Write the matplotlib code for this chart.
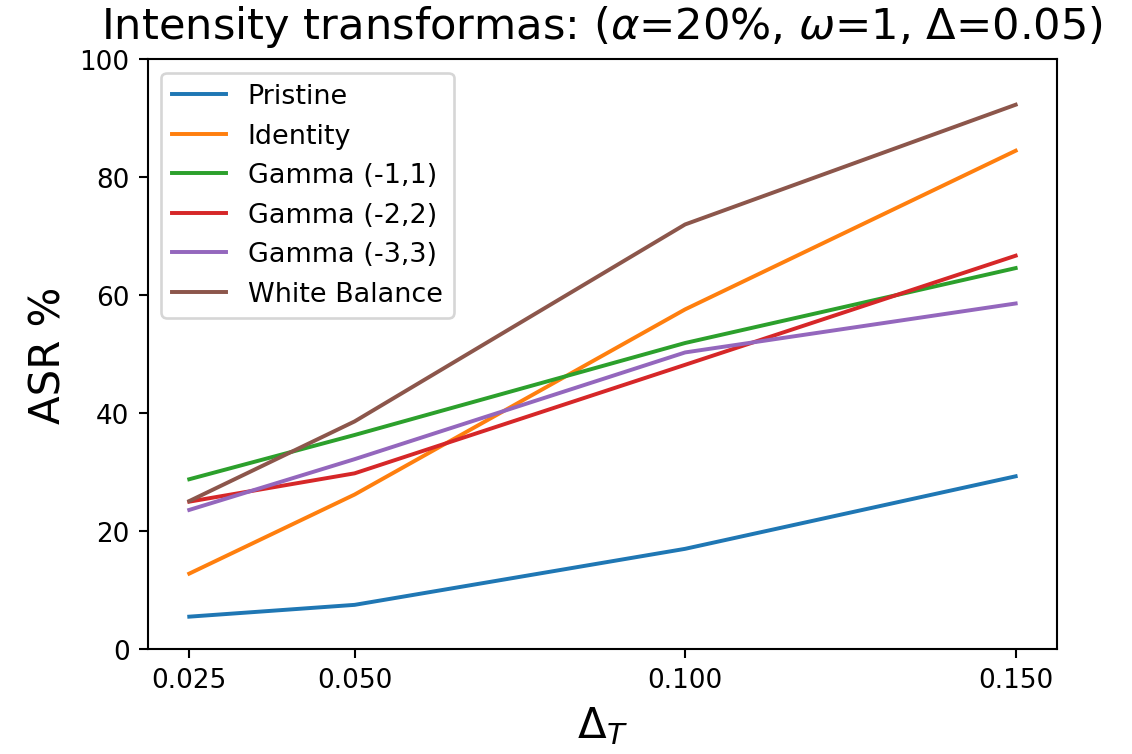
import matplotlib
matplotlib.use("Agg")
import matplotlib.pyplot as plt

# Threshold values on the x axis
delta_t = [0.025, 0.05, 0.1, 0.15]

# Attack success rate (%) per transform
pristine = [5.5, 7.5, 17.0, 29.3]
identity = [12.8, 26.2, 57.6, 84.5]
gamma_1 = [28.8, 36.3, 51.9, 64.6]
gamma_2 = [25.0, 29.8, 48.2, 66.7]
gamma_3 = [23.6, 32.2, 50.3, 58.6]
white_balance = [25.1, 38.6, 72.0, 92.3]

series = [
    ("Pristine", pristine),
    ("Identity", identity),
    ("Gamma (-1,1)", gamma_1),
    ("Gamma (-2,2)", gamma_2),
    ("Gamma (-3,3)", gamma_3),
    ("White Balance", white_balance),
]

fig = plt.figure(figsize=(6, 4), dpi=188.67)
ax = fig.add_axes([0.1307, 0.139, 0.803, 0.7815])

for name, vals in series:
    ax.plot(delta_t, vals, label=name, linewidth=1.5)

ax.set_ylim(0, 100)
ax.set_xticks(delta_t)
ax.set_xticklabels(["0.025", "0.050", "0.100", "0.150"])
ax.set_yticks([0, 20, 40, 60, 80, 100])
ax.tick_params(labelsize=10)

ax.set_title(r"Intensity transformas: ($\alpha$=20%, $\omega$=1, $\Delta$=0.05)",
             fontsize=16.5, pad=8)
ax.set_xlabel(r"$\Delta_T$", fontsize=16)
ax.set_ylabel("ASR %", fontsize=16)
ax.legend(loc="upper left", fontsize=10.3)

fig.savefig("out.png", dpi=188.67)
